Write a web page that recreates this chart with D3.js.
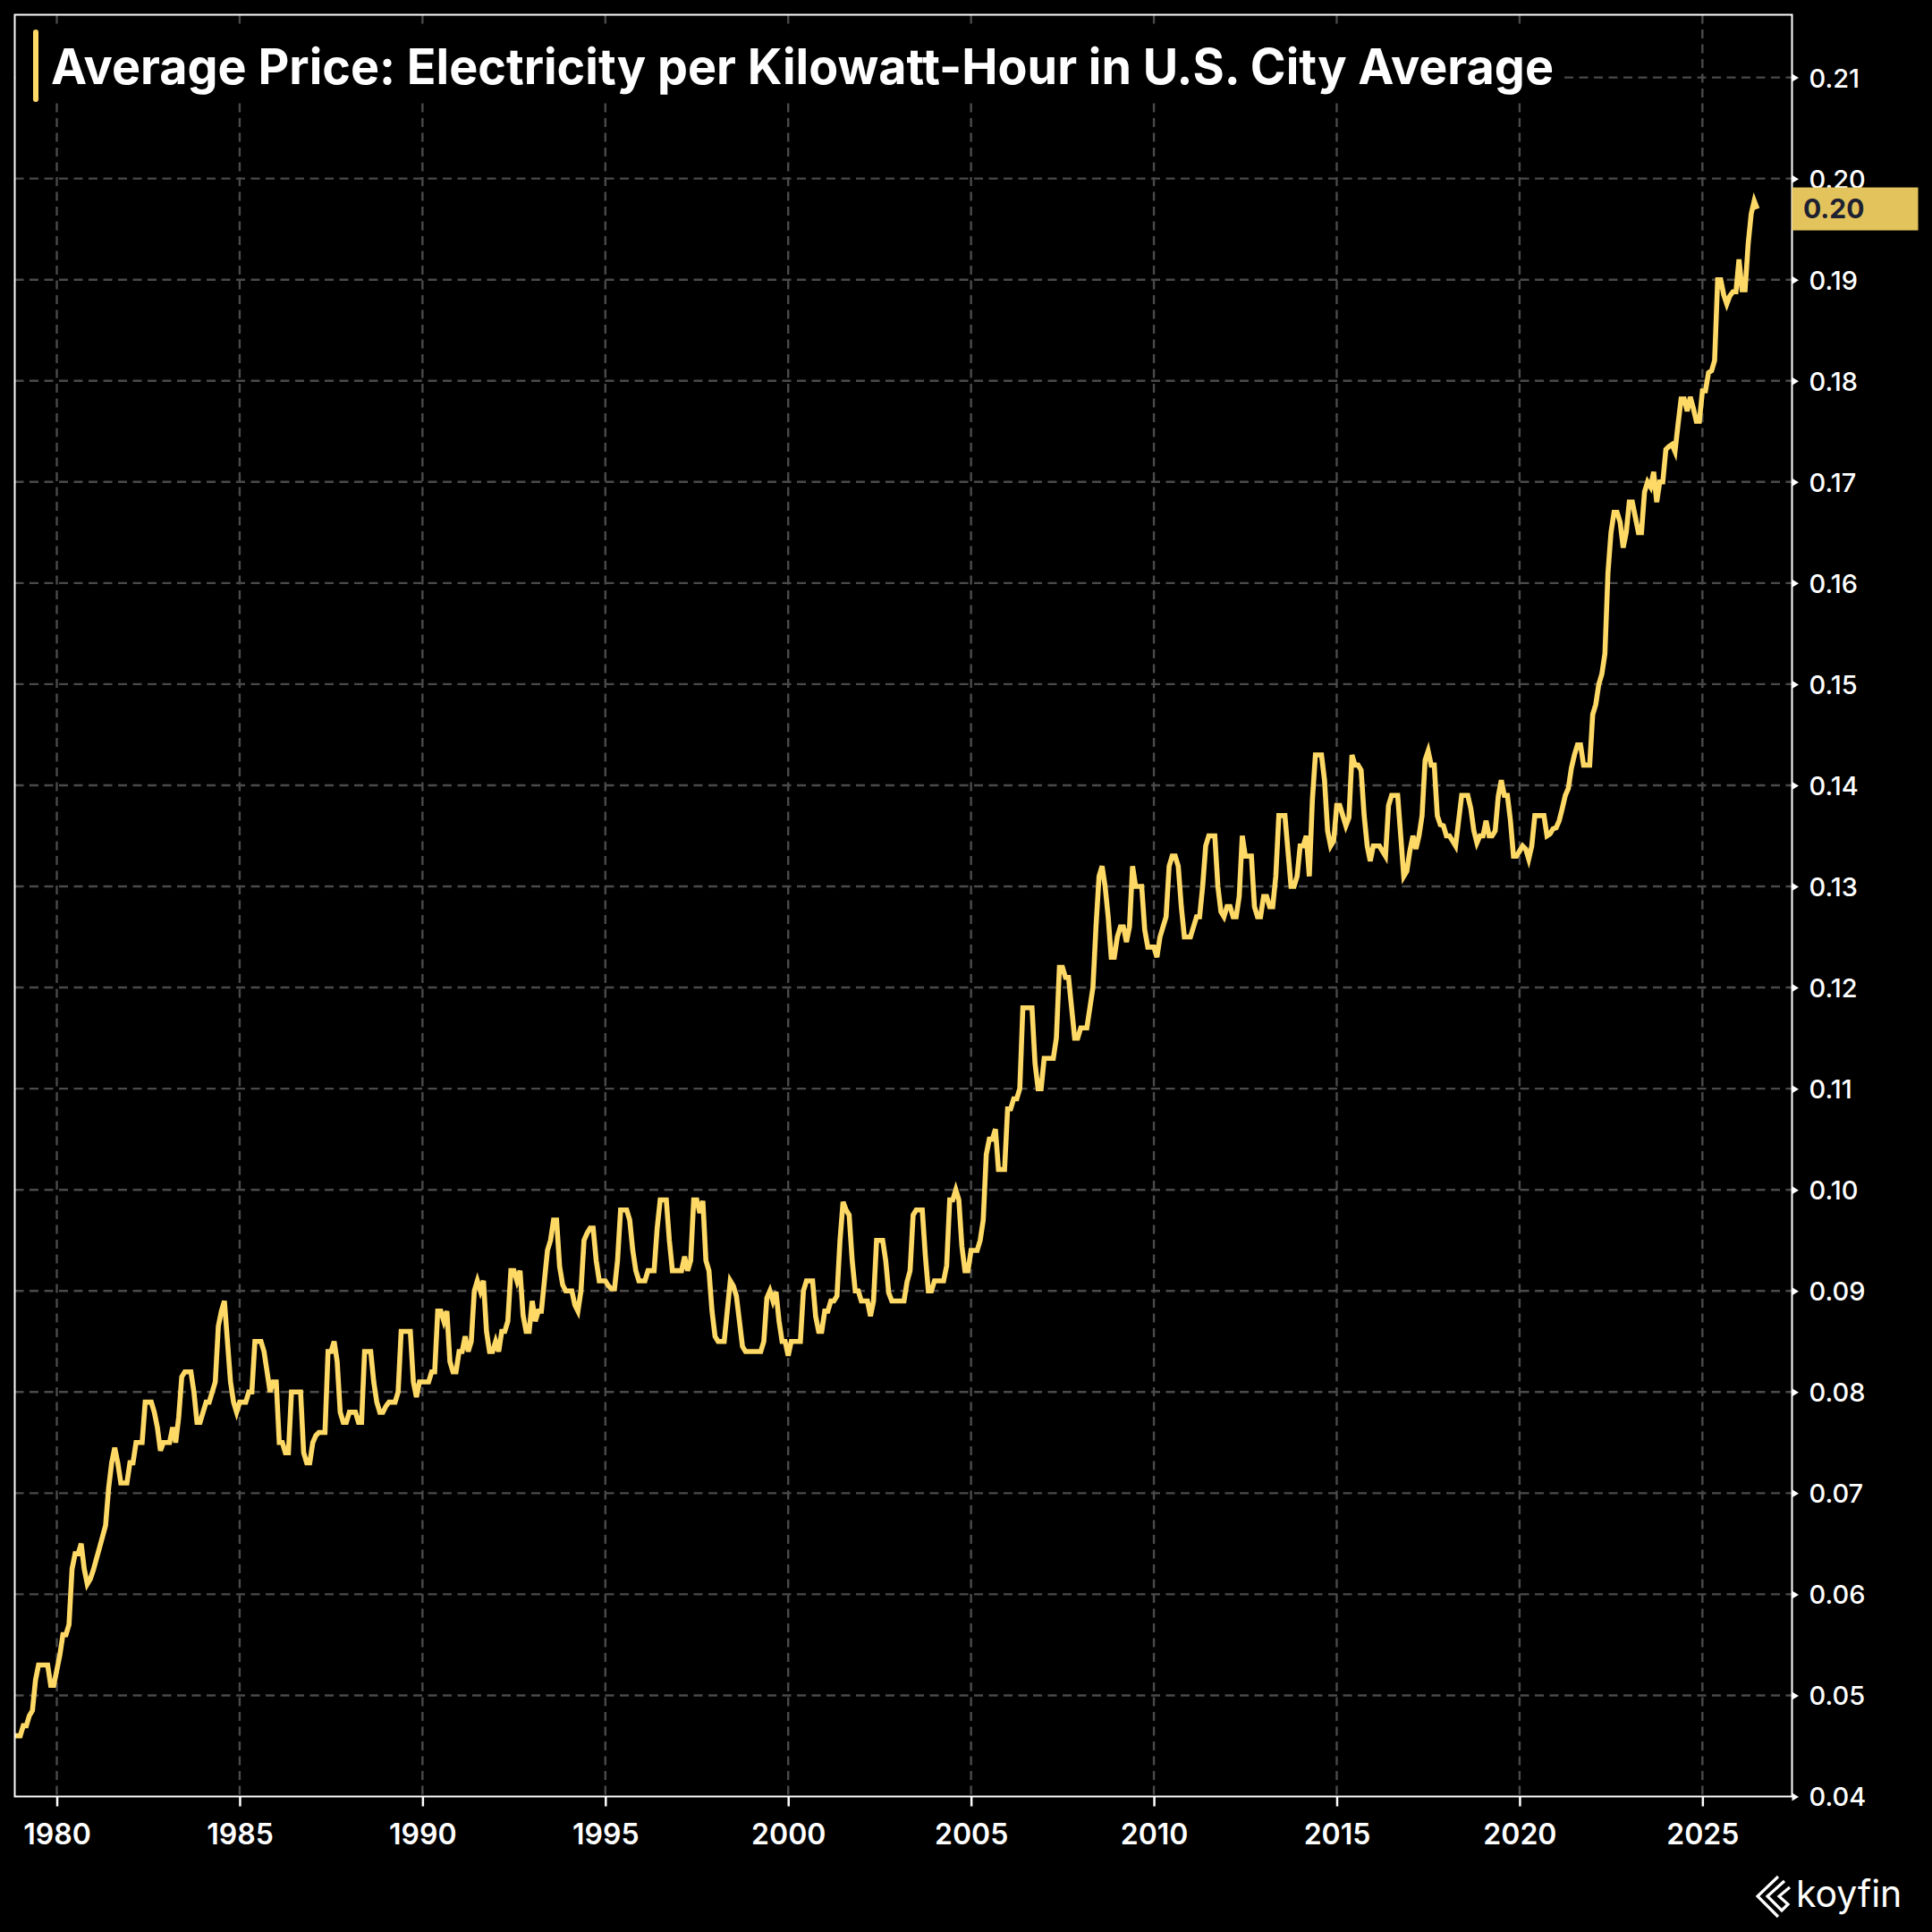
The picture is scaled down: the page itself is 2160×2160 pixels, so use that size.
<!DOCTYPE html>
<html>
<head>
<meta charset="utf-8">
<script src="https://cdn.jsdelivr.net/npm/d3@7"></script>
<style>
  html, body { margin: 0; padding: 0; background: #000; }
  svg { display: block; }
  text { font-family: Inter, "Noto Sans", Roboto, sans-serif; }
</style>
</head>
<body>
<div id="chart"></div>
<script>
const title = "Average Price: Electricity per Kilowatt-Hour in U.S. City Average";
const yTicks = [0.04, 0.05, 0.06, 0.07, 0.08, 0.09, 0.10, 0.11, 0.12, 0.13, 0.14, 0.15, 0.16, 0.17, 0.18, 0.19, 0.20, 0.21];
const xTicks = [1980, 1985, 1990, 1995, 2000, 2005, 2010, 2015, 2020, 2025];
const lastLabel = "0.20";

// monthly prices ($/kWh), each array starts at the month given in its block
const prices1978 = [0.046, 0.046];
const prices1979 = [0.046, 0.047, 0.047, 0.048, 0.0485, 0.0515, 0.053, 0.053, 0.053, 0.053, 0.051, 0.051];
const prices1980s = [
    0.0525, 0.054, 0.056, 0.056, 0.057, 0.0625, 0.064, 0.064, 0.065, 0.0625, 0.061, 0.0615,
    0.0624, 0.0635, 0.0646, 0.0657, 0.0668, 0.0705, 0.073, 0.0745, 0.073, 0.071, 0.071, 0.071,
    0.073, 0.073, 0.075, 0.075, 0.075, 0.079, 0.079, 0.079, 0.078, 0.0765, 0.0742, 0.075,
    0.075, 0.075, 0.0765, 0.075, 0.0775, 0.0815, 0.082, 0.082, 0.082, 0.080, 0.077, 0.077,
    0.078, 0.079, 0.079, 0.080, 0.081, 0.0865, 0.088, 0.089, 0.085, 0.081, 0.079, 0.078,
    0.079, 0.079, 0.079, 0.080, 0.080, 0.085, 0.085, 0.085, 0.084, 0.082, 0.080, 0.081,
    0.081, 0.075, 0.075, 0.074, 0.074, 0.080, 0.080, 0.080, 0.080, 0.074, 0.073, 0.073,
    0.075, 0.0757, 0.076, 0.076, 0.076, 0.084, 0.084, 0.085, 0.083, 0.078, 0.077, 0.077,
    0.078, 0.078, 0.078, 0.077, 0.077, 0.084, 0.084, 0.084, 0.081, 0.079, 0.078, 0.078,
    0.0786, 0.079, 0.079, 0.079, 0.080, 0.086, 0.086, 0.086, 0.086, 0.081, 0.0795, 0.081
];
const prices1990s = [
    0.081, 0.081, 0.081, 0.082, 0.082, 0.088, 0.088, 0.087, 0.088, 0.083, 0.082, 0.082,
    0.084, 0.084, 0.0855, 0.084, 0.085, 0.090, 0.091, 0.090, 0.091, 0.086, 0.084, 0.084,
    0.085, 0.084, 0.086, 0.086, 0.087, 0.092, 0.092, 0.091, 0.092, 0.0876, 0.086, 0.086,
    0.089, 0.087, 0.088, 0.088, 0.091, 0.094, 0.095, 0.097, 0.097, 0.0924, 0.0906, 0.090,
    0.090, 0.090, 0.0886, 0.088, 0.090, 0.095, 0.0957, 0.0962, 0.0962, 0.093, 0.091, 0.091,
    0.091, 0.0905, 0.0902, 0.0902, 0.093, 0.098, 0.098, 0.098, 0.097, 0.094, 0.092, 0.091,
    0.091, 0.091, 0.092, 0.092, 0.092, 0.0962, 0.099, 0.099, 0.099, 0.095, 0.092, 0.092,
    0.092, 0.092, 0.0934, 0.092, 0.093, 0.099, 0.099, 0.0977, 0.0989, 0.093, 0.092, 0.088,
    0.0855, 0.085, 0.085, 0.085, 0.088, 0.091, 0.0905, 0.0895, 0.087, 0.0845, 0.084, 0.084,
    0.084, 0.084, 0.084, 0.084, 0.085, 0.0893, 0.090, 0.089, 0.0899, 0.087, 0.085, 0.085
];
const prices2000s = [
    0.0836, 0.085, 0.085, 0.085, 0.085, 0.090, 0.091, 0.091, 0.091, 0.0875, 0.086, 0.086,
    0.088, 0.088, 0.089, 0.089, 0.0895, 0.095, 0.0988, 0.098, 0.0975, 0.093, 0.090, 0.090,
    0.089, 0.089, 0.089, 0.0875, 0.089, 0.095, 0.095, 0.095, 0.093, 0.0898, 0.089, 0.089,
    0.089, 0.089, 0.089, 0.0909, 0.092, 0.0975, 0.098, 0.098, 0.098, 0.0935, 0.090, 0.090,
    0.091, 0.091, 0.091, 0.091, 0.0925, 0.099, 0.099, 0.100, 0.099, 0.0944, 0.092, 0.092,
    0.094, 0.094, 0.094, 0.095, 0.097, 0.1035, 0.105, 0.105, 0.106, 0.102, 0.102, 0.102,
    0.108, 0.108, 0.109, 0.109, 0.110, 0.118, 0.118, 0.118, 0.118, 0.1125, 0.110, 0.110,
    0.113, 0.113, 0.113, 0.113, 0.115, 0.122, 0.122, 0.121, 0.121, 0.118, 0.115, 0.115,
    0.116, 0.116, 0.116, 0.118, 0.120, 0.126, 0.131, 0.132, 0.130, 0.127, 0.123, 0.123,
    0.125, 0.126, 0.126, 0.1245, 0.126, 0.132, 0.130, 0.130, 0.130, 0.1257, 0.124, 0.124
];
const prices2010s = [
    0.124, 0.123, 0.125, 0.126, 0.127, 0.132, 0.133, 0.133, 0.132, 0.128, 0.125, 0.125,
    0.125, 0.126, 0.127, 0.127, 0.130, 0.134, 0.135, 0.135, 0.135, 0.130, 0.1275, 0.127,
    0.128, 0.128, 0.127, 0.127, 0.129, 0.135, 0.133, 0.133, 0.133, 0.128, 0.127, 0.127,
    0.129, 0.129, 0.128, 0.128, 0.131, 0.137, 0.137, 0.137, 0.1335, 0.130, 0.130, 0.131,
    0.134, 0.134, 0.135, 0.131, 0.1385, 0.143, 0.143, 0.143, 0.1405, 0.1355, 0.134, 0.1345,
    0.138, 0.138, 0.137, 0.136, 0.1368, 0.143, 0.142, 0.142, 0.1415, 0.137, 0.134, 0.1325,
    0.134, 0.134, 0.134, 0.1335, 0.133, 0.138, 0.139, 0.139, 0.139, 0.135, 0.131, 0.1315,
    0.1335, 0.135, 0.1337, 0.135, 0.137, 0.1425, 0.1434, 0.142, 0.142, 0.137, 0.1361, 0.136,
    0.135, 0.135, 0.1345, 0.134, 0.1365, 0.139, 0.139, 0.139, 0.1377, 0.1355, 0.1343, 0.135,
    0.135, 0.1365, 0.135, 0.135, 0.1355, 0.1389, 0.1405, 0.139, 0.139, 0.1365, 0.133, 0.133
];
const prices2020s = [
    0.1335, 0.134, 0.1337, 0.1327, 0.134, 0.137, 0.137, 0.137, 0.137, 0.135, 0.1352, 0.1357,
    0.1358, 0.1365, 0.1377, 0.139, 0.1397, 0.1417, 0.143, 0.144, 0.144, 0.142, 0.142, 0.142,
    0.147, 0.148, 0.150, 0.151, 0.153, 0.161, 0.165, 0.167, 0.167, 0.166, 0.1635, 0.165,
    0.168, 0.168, 0.1665, 0.165, 0.165, 0.169, 0.170, 0.1695, 0.171, 0.168, 0.170, 0.170,
    0.1732, 0.1735, 0.1737, 0.173, 0.1757, 0.1782, 0.1782, 0.177, 0.1784, 0.1773, 0.176, 0.176,
    0.179, 0.179, 0.1808, 0.181, 0.182, 0.190, 0.190, 0.1885, 0.1876, 0.1884, 0.1888, 0.1888,
    0.192, 0.189, 0.189, 0.1935, 0.1965, 0.1978, 0.197
];

const blocks = [
    { year: 1978, month: 11, values: prices1978 },
    { year: 1979, month: 1, values: prices1979 },
    { year: 1980, month: 1, values: prices1980s },
    { year: 1990, month: 1, values: prices1990s },
    { year: 2000, month: 1, values: prices2000s },
    { year: 2010, month: 1, values: prices2010s },
    { year: 2020, month: 1, values: prices2020s }
];

// turn each block into points on a decimal-year axis
const points = blocks.flatMap(b =>
    b.values.map((v, i) => ({ t: b.year + (b.month - 1 + i) / 12, v: v }))
);

const W = 2160, H = 2160;
const plot = { left: 16.5, top: 16.5, right: 2003.5, bottom: 2008.5 };
const lineColor = "#FFD966";
const gridColor = "#4a4a4a";

const svg = d3.select("#chart").append("svg")
    .attr("width", W)
    .attr("height", H)
    .style("background", "#000");

const x = d3.scaleLinear().domain([1978.85, 2027.45]).range([plot.left, plot.right]);
const y = d3.scaleLinear().domain([0.04, 0.2162]).range([plot.bottom, plot.top]);

// grid
svg.append("g").selectAll("line")
    .data(xTicks)
    .join("line")
    .attr("x1", d => x(d)).attr("x2", d => x(d))
    .attr("y1", plot.top).attr("y2", plot.bottom)
    .attr("stroke", gridColor)
    .attr("stroke-width", 2.4)
    .attr("stroke-dasharray", "10,6.5");

svg.append("g").selectAll("line")
    .data(yTicks.slice(1))
    .join("line")
    .attr("x1", plot.left).attr("x2", plot.right)
    .attr("y1", d => y(d)).attr("y2", d => y(d))
    .attr("stroke", gridColor)
    .attr("stroke-width", 2.4)
    .attr("stroke-dasharray", "10,6.5");

// title sits on a black strip that hides the grid
svg.append("rect")
    .attr("x", plot.left + 1).attr("y", 28)
    .attr("width", 1730).attr("height", 87)
    .attr("fill", "#000");

svg.append("rect")
    .attr("x", 37).attr("y", 33)
    .attr("width", 6).attr("height", 81)
    .attr("rx", 3)
    .attr("fill", lineColor);

const titleText = svg.append("text")
    .attr("x", 57).attr("y", 94)
    .attr("fill", "#fff")
    .attr("font-size", 55)
    .attr("font-weight", 700)
    .text(title);
const titleWidth = titleText.node().getComputedTextLength();
if (Math.abs(titleWidth - 1680) > 10) {
    titleText.attr("textLength", 1680).attr("lengthAdjust", "spacingAndGlyphs");
}

// price line
svg.append("clipPath").attr("id", "clip")
    .append("rect")
    .attr("x", plot.left).attr("y", plot.top)
    .attr("width", plot.right - plot.left).attr("height", plot.bottom - plot.top);

const line = d3.line()
    .x(d => x(d.t))
    .y(d => y(d.v));

svg.append("path")
    .datum(points)
    .attr("clip-path", "url(#clip)")
    .attr("d", line)
    .attr("fill", "none")
    .attr("stroke", lineColor)
    .attr("stroke-width", 5.6)
    .attr("stroke-linejoin", "miter");

// frame
svg.append("rect")
    .attr("x", plot.left).attr("y", plot.top)
    .attr("width", plot.right - plot.left).attr("height", plot.bottom - plot.top)
    .attr("fill", "none")
    .attr("stroke", "#fff")
    .attr("stroke-width", 2);

// x axis
const xAxis = svg.append("g")
    .attr("transform", `translate(0,${plot.bottom})`)
    .call(d3.axisBottom(x).tickValues(xTicks).tickFormat(d3.format("d")).tickSize(11).tickPadding(0));
xAxis.select(".domain").remove();
xAxis.selectAll(".tick line").attr("stroke", "#fff").attr("stroke-width", 2.5);
xAxis.selectAll(".tick text")
    .attr("y", 53).attr("dy", null)
    .attr("fill", "#fff")
    .attr("font-size", 32)
    .attr("font-weight", 600)
    .style("font-family", "Inter, 'Noto Sans', Roboto, sans-serif");

// y axis on the right, with small arrow ticks
const yAxis = svg.append("g")
    .attr("transform", `translate(${plot.right},0)`)
    .call(d3.axisRight(y).tickValues(yTicks).tickFormat(d3.format(".2f")).tickSize(0).tickPadding(0));
yAxis.select(".domain").remove();
yAxis.selectAll(".tick").append("path")
    .attr("d", "M0,-4.5L7.5,0L0,4.5Z")
    .attr("fill", "#fff");
yAxis.selectAll(".tick text")
    .attr("x", 19).attr("dy", "0.36em")
    .attr("fill", "#fff")
    .attr("font-size", 29)
    .attr("font-weight", 500)
    .style("font-family", "Inter, 'Noto Sans', Roboto, sans-serif");

// last value badge
const last = points[points.length - 1];
svg.append("rect")
    .attr("x", plot.right).attr("y", y(last.v) - 24)
    .attr("width", 141).attr("height", 48)
    .attr("fill", "#E3C35C");
svg.append("text")
    .attr("x", 2016).attr("y", y(last.v)).attr("dy", "0.36em")
    .attr("fill", "#1d2130")
    .attr("font-size", 30)
    .attr("font-weight", 700)
    .text(lastLabel);

// koyfin mark
const logo = svg.append("g")
    .attr("fill", "none")
    .attr("stroke", "#fff")
    .attr("stroke-width", 3.2)
    .attr("stroke-linejoin", "miter");
logo.append("path").attr("d", "M1988,2098L1965,2120L1988,2143");
logo.append("path").attr("d", "M1995,2103L1976,2120L1992,2136L1999,2129L1989,2120L2001,2110");
svg.append("text")
    .attr("x", 2008).attr("y", 2132)
    .attr("fill", "#fff")
    .attr("font-size", 41)
    .attr("font-weight", 400)
    .text("koyfin");
</script>
</body>
</html>
